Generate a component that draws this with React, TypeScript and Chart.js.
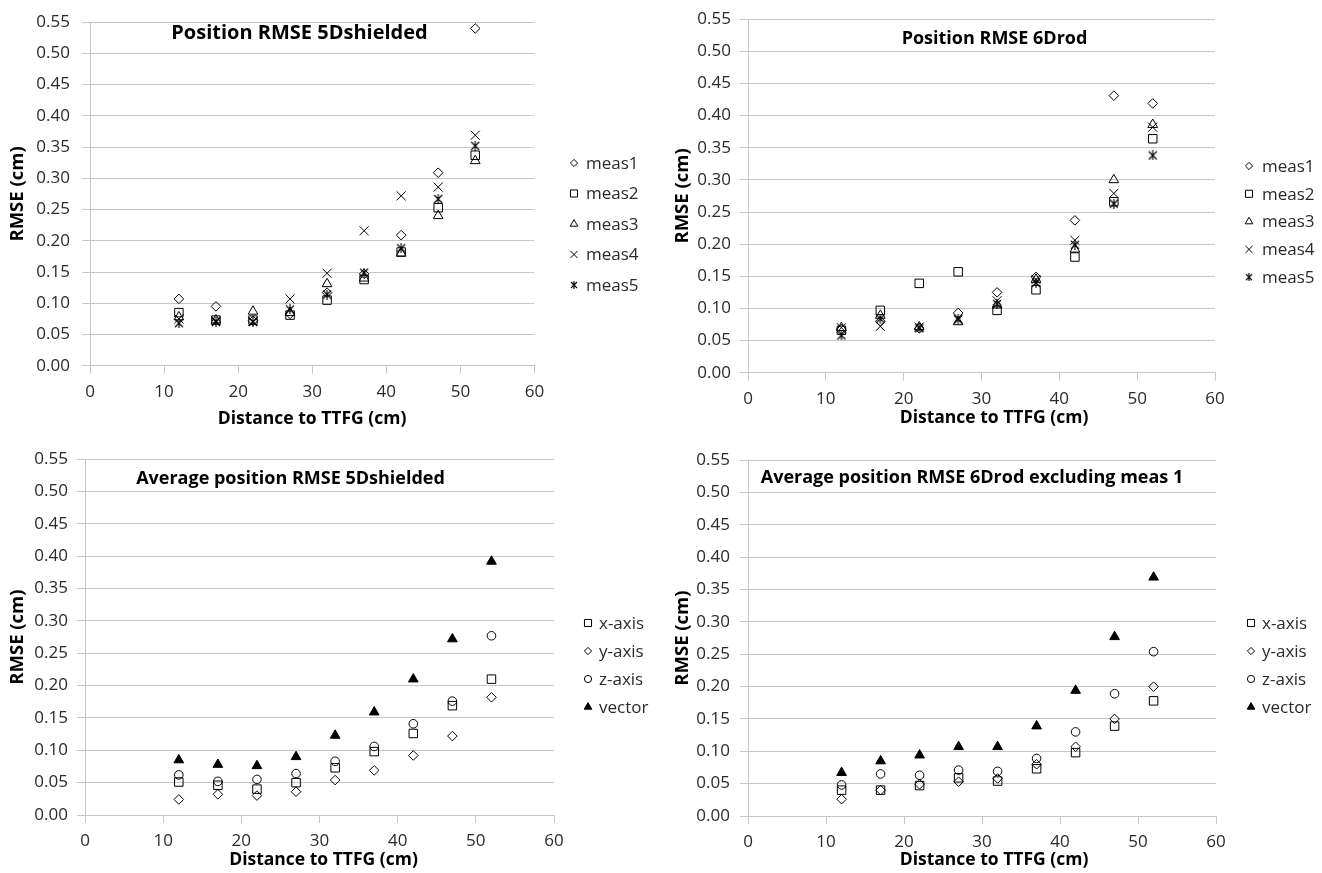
import React, { useEffect, useRef } from "react";
import { Chart, registerables } from "chart.js";
import { drawPoint } from "chart.js/helpers";

Chart.register(...registerables);

// ---------------- data ----------------
const distances = [12, 17, 22, 27, 32, 37, 42, 47, 52];
const xTickValues = [0, 10, 20, 30, 40, 50, 60];
const yTickValues = [0, 0.05, 0.1, 0.15, 0.2, 0.25, 0.3, 0.35, 0.4, 0.45, 0.5, 0.55];

// Position RMSE 5Dshielded
const shielded_meas1 = [0.107, 0.095, 0.072, 0.083, 0.117, 0.147, 0.209, 0.309, 0.54];
const shielded_meas2 = [0.085, 0.073, 0.073, 0.081, 0.105, 0.138, 0.182, 0.253, 0.337];
const shielded_meas3 = [0.078, 0.073, 0.087, 0.085, 0.131, 0.14, 0.18, 0.24, 0.328];
const shielded_meas4 = [0.075, 0.072, 0.071, 0.107, 0.148, 0.216, 0.272, 0.286, 0.369];
const shielded_meas5 = [0.068, 0.07, 0.07, 0.09, 0.114, 0.149, 0.188, 0.267, 0.352];

// Position RMSE 6Drod
const rod_meas1 = [0.068, 0.08, 0.069, 0.093, 0.125, 0.149, 0.237, 0.431, 0.419];
const rod_meas2 = [0.066, 0.097, 0.139, 0.157, 0.097, 0.129, 0.18, 0.266, 0.364];
const rod_meas3 = [0.07, 0.089, 0.071, 0.079, 0.105, 0.145, 0.192, 0.3, 0.386];
const rod_meas4 = [0.07, 0.072, 0.071, 0.083, 0.112, 0.145, 0.206, 0.279, 0.382];
const rod_meas5 = [0.058, 0.084, 0.069, 0.083, 0.107, 0.14, 0.199, 0.263, 0.338];

// Average position RMSE 5Dshielded
const avgShielded_x = [0.051, 0.046, 0.04, 0.05, 0.073, 0.098, 0.126, 0.169, 0.21];
const avgShielded_y = [0.024, 0.032, 0.03, 0.036, 0.054, 0.069, 0.092, 0.122, 0.182];
const avgShielded_z = [0.062, 0.052, 0.055, 0.064, 0.083, 0.106, 0.141, 0.176, 0.277];
const avgShielded_vector = [0.085, 0.078, 0.076, 0.09, 0.123, 0.159, 0.21, 0.272, 0.392];

// Average position RMSE 6Drod excluding meas 1
const avgRod_x = [0.04, 0.04, 0.047, 0.059, 0.054, 0.073, 0.098, 0.139, 0.178];
const avgRod_y = [0.026, 0.04, 0.049, 0.053, 0.058, 0.08, 0.107, 0.15, 0.2];
const avgRod_z = [0.048, 0.065, 0.063, 0.071, 0.069, 0.089, 0.13, 0.189, 0.254];
const avgRod_vector = [0.067, 0.085, 0.094, 0.107, 0.107, 0.139, 0.194, 0.277, 0.369];

const measLabels = ["meas1", "meas2", "meas3", "meas4", "meas5"];
const axisLabels = ["x-axis", "y-axis", "z-axis", "vector"];
const xAxisTitle = "Distance to TTFG (cm)";
const yAxisTitle = "RMSE (cm)";

// ---------------- styling ----------------
const FONT = "'Open Sans', 'Noto Sans', sans-serif";
const GRID = "#c6c6c6";
const TEXT = "#2a2a2a";

function makeStar(size: number): HTMLCanvasElement {
  const c = document.createElement("canvas");
  c.width = size;
  c.height = size;
  const g = c.getContext("2d")!;
  g.strokeStyle = "#000";
  g.lineWidth = 1.1;
  const m = size / 2;
  g.beginPath();
  g.moveTo(1, 1);
  g.lineTo(size - 1, size - 1);
  g.moveTo(size - 1, 1);
  g.lineTo(1, size - 1);
  g.moveTo(m, 0);
  g.lineTo(m, size);
  g.stroke();
  return c;
}

type Marker = { style: any; r: number; lr: number; fill: string; legendStyle?: any };

function markers() {
  const none = "rgba(0,0,0,0)";
  return {
    diamond: { style: "rectRot", r: 4.8, lr: 3.6, fill: none } as Marker,
    square: { style: "rect", r: 6, lr: 5, fill: none } as Marker,
    triangle: { style: "triangle", r: 5.6, lr: 4.4, fill: none } as Marker,
    cross: { style: "crossRot", r: 6.4, lr: 5, fill: none } as Marker,
    star: { style: makeStar(10), r: 5, lr: 4, fill: none, legendStyle: makeStar(8) } as Marker,
    circle: { style: "circle", r: 4.3, lr: 3.6, fill: none } as Marker,
    solidTriangle: { style: "triangle", r: 5.6, lr: 4.4, fill: "#000" } as Marker,
  };
}

type Panel = {
  title: string;
  titleSize: number;
  series: { label: string; values: number[]; marker: string }[];
  box: { left: number; top: number; width: number; height: number };
  area: { l: number; t: number; r: number; b: number };
  titlePos: { x: number; y: number };
  legend: { markerX: number; textX: number; y: number; dy: number };
  yTitleX: number;
  xTitlePos: { x: number; y: number };
  yTickPad: number;
};

const panels: Panel[] = [
  {
    title: "Position RMSE 5Dshielded",
    titleSize: 20,
    series: [
      { label: measLabels[0], values: shielded_meas1, marker: "diamond" },
      { label: measLabels[1], values: shielded_meas2, marker: "square" },
      { label: measLabels[2], values: shielded_meas3, marker: "triangle" },
      { label: measLabels[3], values: shielded_meas4, marker: "cross" },
      { label: measLabels[4], values: shielded_meas5, marker: "star" },
    ],
    box: { left: 0, top: 0, width: 660, height: 433 },
    area: { l: 90, t: 17.7, r: 534.5, b: 365.7 },
    titlePos: { x: 299.5, y: 33 },
    legend: { markerX: 574, textX: 586, y: 163, dy: 30.5 },
    yTitleX: 18,
    xTitlePos: { x: 312, y: 419 },
    yTickPad: 12,
  },
  {
    title: "Position RMSE 6Drod",
    titleSize: 18,
    series: [
      { label: measLabels[0], values: rod_meas1, marker: "diamond" },
      { label: measLabels[1], values: rod_meas2, marker: "square" },
      { label: measLabels[2], values: rod_meas3, marker: "triangle" },
      { label: measLabels[3], values: rod_meas4, marker: "cross" },
      { label: measLabels[4], values: rod_meas5, marker: "star" },
    ],
    box: { left: 660, top: 0, width: 662, height: 433 },
    area: { l: 748, t: 16, r: 1215, b: 372.7 },
    titlePos: { x: 994.5, y: 39 },
    legend: { markerX: 1249, textX: 1262, y: 166, dy: 27.8 },
    yTitleX: 683,
    xTitlePos: { x: 994, y: 418 },
    yTickPad: 9,
  },
  {
    title: "Average position RMSE 5Dshielded",
    titleSize: 18,
    series: [
      { label: axisLabels[0], values: avgShielded_x, marker: "square" },
      { label: axisLabels[1], values: avgShielded_y, marker: "diamond" },
      { label: axisLabels[2], values: avgShielded_z, marker: "circle" },
      { label: axisLabels[3], values: avgShielded_vector, marker: "solidTriangle" },
    ],
    box: { left: 0, top: 440, width: 660, height: 433 },
    area: { l: 85, t: 458.3, r: 554, b: 815 },
    titlePos: { x: 290.5, y: 479 },
    legend: { markerX: 588, textX: 599, y: 623, dy: 28 },
    yTitleX: 18,
    xTitlePos: { x: 323.5, y: 860 },
    yTickPad: 9,
  },
  {
    title: "Average position RMSE 6Drod excluding meas 1",
    titleSize: 18,
    series: [
      { label: axisLabels[0], values: avgRod_x, marker: "square" },
      { label: axisLabels[1], values: avgRod_y, marker: "diamond" },
      { label: axisLabels[2], values: avgRod_z, marker: "circle" },
      { label: axisLabels[3], values: avgRod_vector, marker: "solidTriangle" },
    ],
    box: { left: 660, top: 440, width: 662, height: 433 },
    area: { l: 748, t: 459, r: 1216, b: 816 },
    titlePos: { x: 972, y: 478 },
    legend: { markerX: 1251, textX: 1262, y: 623, dy: 28 },
    yTitleX: 683,
    xTitlePos: { x: 994, y: 860 },
    yTickPad: 10,
  },
];

const TICK_FONT = 17;
const X_TITLE_FONT = 17.5;
const Y_TITLE_FONT = 18.5;
const LEGEND_FONT = 17;

function buildConfig(p: Panel): any {
  const mk = markers() as Record<string, Marker>;
  const { box, area } = p;
  const yScaleWidth = area.l - box.left;
  const xScaleHeight = box.top + box.height - area.b;
  const yTitleLH = Y_TITLE_FONT * 1.2;

  const datasets = p.series.map((s) => {
    const m = mk[s.marker];
    return {
      label: s.label,
      data: distances.map((d, i) => ({ x: d, y: s.values[i] })),
      pointStyle: m.style,
      pointRadius: m.r,
      pointHoverRadius: m.r,
      pointBorderColor: "#000",
      pointBackgroundColor: m.fill,
      borderColor: "#000",
      backgroundColor: m.fill,
      pointBorderWidth: 1,
      showLine: false,
      clip: false,
    };
  });

  const overlay = {
    id: "overlay",
    afterDraw(chart: any) {
      const ctx = chart.ctx as CanvasRenderingContext2D;
      ctx.save();
      // chart title
      ctx.fillStyle = "#000";
      ctx.font = `bold ${p.titleSize}px ${FONT}`;
      ctx.textAlign = "center";
      ctx.textBaseline = "middle";
      ctx.fillText(p.title, p.titlePos.x - box.left, p.titlePos.y - box.top);
      // x axis title
      ctx.font = `bold ${X_TITLE_FONT}px ${FONT}`;
      ctx.fillText(xAxisTitle, p.xTitlePos.x - box.left, p.xTitlePos.y - box.top);
      // legend
      ctx.font = `${LEGEND_FONT}px ${FONT}`;
      ctx.textAlign = "left";
      p.series.forEach((s, i) => {
        const m = mk[s.marker];
        const y = p.legend.y + i * p.legend.dy - box.top;
        const x = p.legend.markerX - box.left;
        ctx.save();
        ctx.strokeStyle = "#000";
        ctx.fillStyle = m.fill;
        ctx.lineWidth = 1;
        drawPoint(ctx, { pointStyle: m.legendStyle || m.style, radius: m.lr, rotation: 0, borderWidth: 1 } as any, x, y);
        ctx.restore();
        ctx.fillStyle = TEXT;
        ctx.fillText(s.label, p.legend.textX - box.left, y + 1);
      });
      ctx.restore();
    },
  };

  return {
    type: "scatter",
    data: { datasets },
    plugins: [overlay],
    options: {
      responsive: false,
      animation: false,
      devicePixelRatio: 1,
      layout: {
        padding: {
          left: 0,
          top: area.t - box.top,
          right: box.left + box.width - area.r,
          bottom: 0,
        },
      },
      plugins: {
        legend: { display: false },
        title: { display: false },
        tooltip: { enabled: false },
      },
      scales: {
        x: {
          type: "linear",
          min: xTickValues[0],
          max: xTickValues[xTickValues.length - 1],
          afterBuildTicks: (s: any) => {
            s.ticks = xTickValues.map((v) => ({ value: v }));
          },
          afterFit: (s: any) => {
            s.height = xScaleHeight;
          },
          grid: {
            drawOnChartArea: false,
            drawTicks: true,
            tickLength: 8,
            color: GRID,
            lineWidth: 1,
          },
          border: { display: true, color: GRID, width: 1 },
          ticks: {
            color: TEXT,
            padding: 8,
            maxRotation: 0,
            font: { family: FONT, size: TICK_FONT },
            callback: (v: any) => String(v),
          },
          title: { display: false },
        },
        y: {
          type: "linear",
          min: yTickValues[0],
          max: yTickValues[yTickValues.length - 1],
          afterBuildTicks: (s: any) => {
            s.ticks = yTickValues.map((v) => ({ value: v }));
          },
          afterFit: (s: any) => {
            s.width = yScaleWidth;
          },
          grid: {
            drawOnChartArea: true,
            drawTicks: true,
            tickLength: 8,
            color: GRID,
            lineWidth: 1,
          },
          border: { display: true, color: GRID, width: 1 },
          ticks: {
            color: TEXT,
            padding: p.yTickPad,
            font: { family: FONT, size: TICK_FONT },
            callback: (v: any) => Number(v).toFixed(2),
          },
          title: {
            display: true,
            text: yAxisTitle,
            color: "#000",
            font: { family: FONT, size: Y_TITLE_FONT, weight: "bold" },
            padding: { top: p.yTitleX - box.left - yTitleLH / 2, bottom: 4 },
          },
        },
      },
    },
  };
}

function PanelChart({ p }: { p: Panel }) {
  const ref = useRef<HTMLCanvasElement>(null);
  useEffect(() => {
    const canvas = ref.current;
    if (!canvas) return;
    const chart = new Chart(canvas, buildConfig(p));
    return () => chart.destroy();
  }, [p]);
  return (
    <canvas
      ref={ref}
      width={p.box.width}
      height={p.box.height}
      style={{
        position: "absolute",
        left: p.box.left,
        top: p.box.top,
        width: p.box.width,
        height: p.box.height,
        display: "block",
      }}
    />
  );
}

export default function App() {
  return (
    <div style={{ position: "absolute", left: 0, top: 0, width: 1322, height: 873, background: "#fff" }}>
      {panels.map((p, i) => (
        <PanelChart key={i} p={p} />
      ))}
    </div>
  );
}
